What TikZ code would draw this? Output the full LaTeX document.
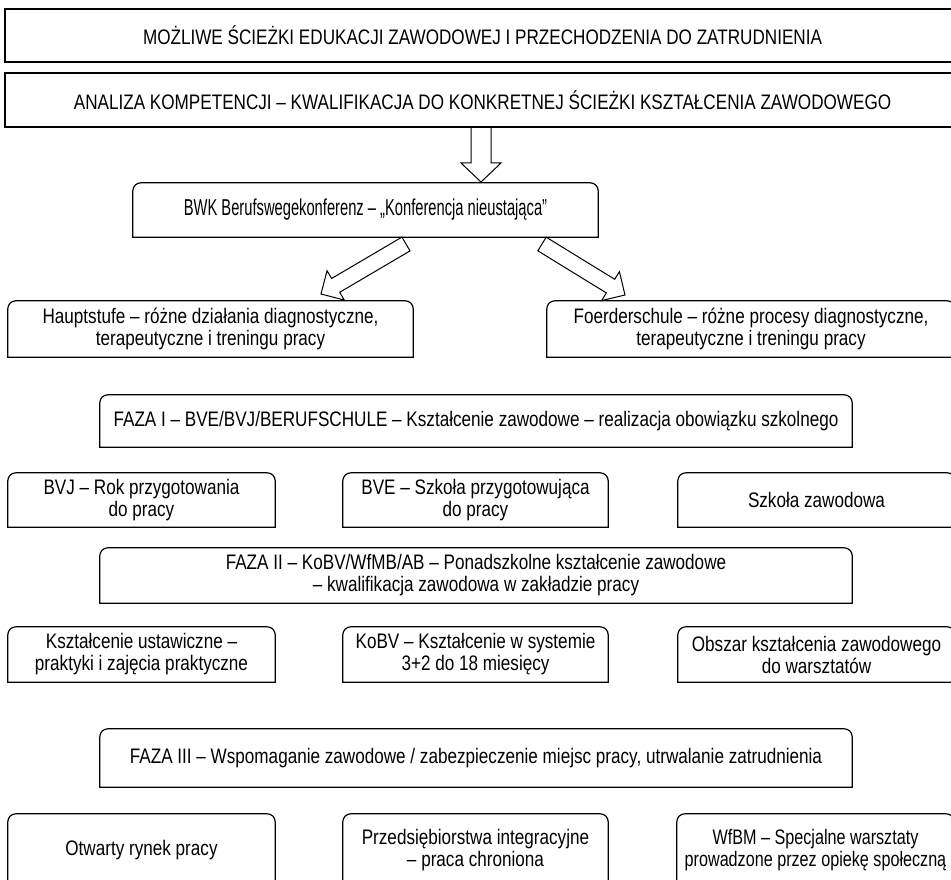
\documentclass[tikz,border=0pt]{standalone}
\usepackage{fontspec}
\setmainfont{Liberation Sans}[FakeStretch=0.815]
\newfontfamily\bwkfont{Liberation Sans}[FakeStretch=0.64]
\newfontfamily\narrowfont{Liberation Sans}[FakeStretch=0.77]
\usetikzlibrary{calc}
\tikzset{
  boxline/.style={draw=black, line width=1.2pt},
  txt/.style={rectangle, inner sep=0pt, align=center, font=\fontsize{21}{22}\selectfont},
  sqbox/.style={txt, boxline},
  tbox/.style={txt},
  blockarrow/.style={draw=black, line width=1pt, fill=white, line join=miter},
}
\newcommand\topround[1]{%
  \draw[boxline] (#1.south west) -- ([yshift=-8pt]#1.north west)
    arc[start angle=180,end angle=90,radius=8pt]
    -- ([xshift=-8pt]#1.north east)
    arc[start angle=90,end angle=0,radius=8pt]
    -- (#1.south east) -- cycle;}
% block arrow from #1 to #2, shaft half width #3, head half width #4, head length #5
\newcommand\barrow[5]{%
  \coordinate (#1h) at ($(#2)!#5!(#1)$);
  \draw[blockarrow] ($(#1)!#3!90:(#2)$) -- ($(#1h)!#3!90:(#2)$) -- ($(#1h)!#4!90:(#2)$)
    -- (#2) -- ($(#1h)!#4!-90:(#2)$) -- ($(#1h)!#3!-90:(#2)$) -- ($(#1)!#3!-90:(#2)$) -- cycle;}
\begin{document}
\begin{tikzpicture}[x=1pt,y=-1pt]
\clip (0,0) rectangle (951,880);
\fill[white] (0,0) rectangle (951,880);
% top boxes
\node[sqbox, minimum width=955pt, minimum height=53pt] (b1) at (482.5,35.5)
  {MOŻLIWE ŚCIEŻKI EDUKACJI ZAWODOWEJ I PRZECHODZENIA DO ZATRUDNIENIA};
\node[sqbox, minimum width=955pt, minimum height=54pt] (b2) at (482.5,100)
  {ANALIZA KOMPETENCJI – KWALIFIKACJA DO KONKRETNEJ ŚCIEŻKI KSZTAŁCENIA ZAWODOWEGO};
% BWK
\node[tbox, minimum width=465pt, minimum height=54pt, font=\fontsize{23}{24}\bwkfont] (bwk) at (365.5,210)
  {BWK Berufswegekonferenz – „Konferencja nieustająca”};
\topround{bwk}
\coordinate (dA) at (481,127.5);
\coordinate (dB) at (481,182);
\barrow{dA}{dB}{10pt}{20pt}{19pt}
% diagonal arrows
\coordinate (lA) at (406,244);
\coordinate (lB) at (321,294);
\barrow{lA}{lB}{8pt}{17pt}{17pt}
\coordinate (rA) at (542,244);
\coordinate (rB) at (625,295);
\barrow{rA}{rB}{8pt}{17pt}{17pt}
% second level
\node[tbox, minimum width=405pt, minimum height=56pt] (haupt) at (210.5,329)
  {Hauptstufe – różne działania diagnostyczne,\\ terapeutyczne i treningu pracy};
\topround{haupt}
\node[tbox, minimum width=408pt, minimum height=56pt] (foerd) at (751,329)
  {Foerderschule – różne procesy diagnostyczne,\\ terapeutyczne i treningu pracy};
\topround{foerd}
% FAZA I
\node[tbox, minimum width=752pt, minimum height=52pt] (faza1) at (476,421)
  {FAZA I – BVE/BVJ/BERUFSCHULE – Kształcenie zawodowe – realizacja obowiązku szkolnego};
\topround{faza1}
\node[tbox, minimum width=267pt, minimum height=54pt] (bvj) at (141.5,500)
  {BVJ – Rok przygotowania\\ do pracy};
\topround{bvj}
\node[tbox, minimum width=265pt, minimum height=54pt] (bve) at (475.5,500)
  {BVE – Szkoła przygotowująca\\ do pracy};
\topround{bve}
\node[tbox, minimum width=277pt, minimum height=54pt] (szk) at (816.5,500)
  {Szkoła zawodowa};
\topround{szk}
% FAZA II
\node[tbox, minimum width=752pt, minimum height=55pt] (faza2) at (476,575.5)
  {FAZA II – KoBV/WfMB/AB – Ponadszkolne kształcenie zawodowe\\ – kwalifikacja zawodowa w zakładzie pracy};
\topround{faza2}
\node[tbox, minimum width=267pt, minimum height=55pt] (ksz) at (141.5,654.5)
  {Kształcenie ustawiczne –\\ praktyki i zajęcia praktyczne};
\topround{ksz}
\node[tbox, minimum width=265pt, minimum height=55pt] (kobv) at (475.5,654.5)
  {KoBV – Kształcenie w systemie\\ 3+2 do 18 miesięcy};
\topround{kobv}
\node[tbox, minimum width=277pt, minimum height=55pt] (obsz) at (816.5,654.5)
  {Obszar kształcenia zawodowego\\ do warsztatów};
\topround{obsz}
% FAZA III
\node[tbox, minimum width=752pt, minimum height=58pt] (faza3) at (476,758)
  {FAZA III – Wspomaganie zawodowe / zabezpieczenie miejsc pracy, utrwalanie zatrudnienia};
\topround{faza3}
\node[tbox, minimum width=267pt, minimum height=72pt] (otw) at (141.5,850)
  {Otwarty rynek pracy};
\topround{otw}
\node[tbox, minimum width=265pt, minimum height=72pt] (przed) at (475.5,850)
  {Przedsiębiorstwa integracyjne\\ – praca chroniona};
\topround{przed}
\node[tbox, minimum width=277pt, minimum height=72pt, font=\fontsize{21}{22}\narrowfont] (wfbm) at (815.5,850)
  {WfBM – Specjalne warsztaty\\ prowadzone przez opiekę społeczną};
\topround{wfbm}
\end{tikzpicture}
\end{document}
